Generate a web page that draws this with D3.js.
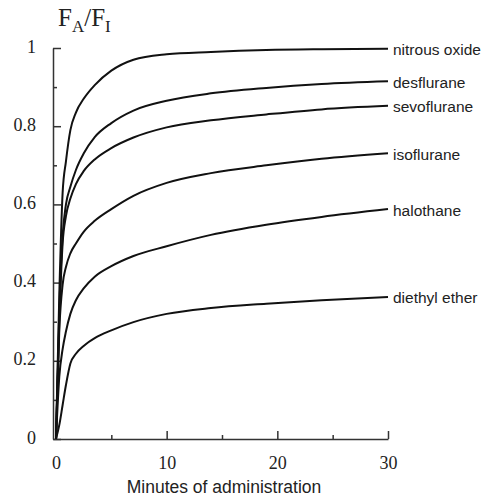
<!DOCTYPE html>
<html>
<head>
<meta charset="utf-8">
<script src="https://cdn.jsdelivr.net/npm/d3@7"></script>
<style>
  body { margin: 0; background: #fff; }
  .axis path, .axis line { stroke: #333; stroke-width: 1.5; }
  .tick text { font-family: "Liberation Serif", "Times New Roman", serif; font-size: 18px; fill: #222; }
  .curve { fill: none; stroke: #111; stroke-width: 2; }
  .lbl { font-family: "Liberation Sans", Arial, sans-serif; font-size: 15.5px; fill: #222; }
</style>
</head>
<body>
<svg width="488" height="498"></svg>
<script>
// minutes of administration
var minutes = [0, 0.3, 0.6, 0.9, 1.3, 1.8, 2.5, 3.5, 5, 7, 10, 14, 19, 24, 30];

var agents = ["nitrous oxide", "desflurane", "sevoflurane", "isoflurane", "halothane", "diethyl ether"];

// FA/FI
var nitrousOxide = [0, 0.37, 0.63, 0.71, 0.79, 0.835, 0.87, 0.905, 0.942, 0.97, 0.984, 0.99, 0.995, 0.997, 0.998];
var desflurane   = [0, 0.33, 0.52, 0.60, 0.645, 0.688, 0.73, 0.772, 0.808, 0.84, 0.865, 0.884, 0.898, 0.908, 0.915];
var sevoflurane  = [0, 0.30, 0.50, 0.57, 0.615, 0.652, 0.685, 0.715, 0.744, 0.771, 0.797, 0.815, 0.83, 0.843, 0.852];
var isoflurane   = [0, 0.28, 0.395, 0.44, 0.475, 0.50, 0.53, 0.558, 0.588, 0.622, 0.655, 0.68, 0.70, 0.717, 0.731];
var halothane    = [0, 0.16, 0.23, 0.275, 0.32, 0.355, 0.385, 0.415, 0.442, 0.468, 0.493, 0.522, 0.548, 0.568, 0.588];
var diethylEther = [0, 0.036, 0.087, 0.138, 0.193, 0.218, 0.238, 0.258, 0.278, 0.299, 0.32, 0.335, 0.346, 0.355, 0.363];

var series = [nitrousOxide, desflurane, sevoflurane, isoflurane, halothane, diethylEther];

var xTicks = [0, 10, 20, 30],
    xMinor = [5, 15, 25],
    yTicks = [0, 0.2, 0.4, 0.6, 0.8, 1],
    yMinor = [0.1, 0.3, 0.5, 0.7, 0.9];

var svg = d3.select("svg");

var x = d3.scaleLinear().domain([-0.27, 30]).range([53, 388]),
    y = d3.scaleLinear().domain([0, 1]).range([439, 48]);

// y axis, ticks pointing inward
svg.append("g")
    .attr("class", "axis")
    .attr("transform", "translate(53,0)")
    .call(d3.axisLeft(y).tickValues(yTicks).tickSizeInner(-8).tickSizeOuter(0).tickPadding(17)
      .tickFormat(function(d) { return d === 0 || d === 1 ? d : d3.format(".1f")(d); }));

svg.append("g")
    .attr("class", "axis")
    .attr("transform", "translate(53,0)")
    .call(d3.axisLeft(y).tickValues(yMinor).tickSizeInner(-4).tickSizeOuter(0).tickFormat(""))
    .select(".domain").remove();

// x axis, ticks pointing up
svg.append("g")
    .attr("class", "axis")
    .attr("transform", "translate(0,439)")
    .call(d3.axisBottom(x).tickValues(xTicks).tickSizeInner(-8).tickSizeOuter(0).tickPadding(26));

svg.append("g")
    .attr("class", "axis")
    .attr("transform", "translate(0,439)")
    .call(d3.axisBottom(x).tickValues(xMinor).tickSizeInner(-4).tickSizeOuter(0).tickFormat(""))
    .select(".domain").remove();

svg.selectAll(".tick text").attr("dy", null).attr("dominant-baseline", "middle");

var line = d3.line()
    .x(function(d, i) { return x(minutes[i]); })
    .y(function(d) { return y(d); })
    .curve(d3.curveMonotoneX);

svg.selectAll(".curve")
    .data(series)
  .enter().append("path")
    .attr("class", "curve")
    .attr("d", line);

svg.selectAll(".lbl")
    .data(series)
  .enter().append("text")
    .attr("class", "lbl")
    .attr("x", x(30) + 5)
    .attr("y", function(d) { return y(d[d.length - 1]) + 1; })
    .attr("dy", "0.35em")
    .text(function(d, i) { return agents[i]; });

// y title F_A/F_I
var title = svg.append("text")
    .attr("x", 58)
    .attr("y", 26)
    .style("font-family", "'Liberation Serif', 'Times New Roman', serif")
    .style("font-size", "25px")
    .attr("fill", "#222");
title.append("tspan").text("F");
title.append("tspan").attr("dy", 6).style("font-size", "17px").text("A");
title.append("tspan").attr("dy", -6).text("/F");
title.append("tspan").attr("dy", 6).style("font-size", "17px").text("I");

svg.append("text")
    .attr("x", 224)
    .attr("y", 493)
    .attr("text-anchor", "middle")
    .style("font-family", "'Liberation Sans', Arial, sans-serif")
    .style("font-size", "17.5px")
    .attr("fill", "#222")
    .text("Minutes of administration");
</script>
</body>
</html>
